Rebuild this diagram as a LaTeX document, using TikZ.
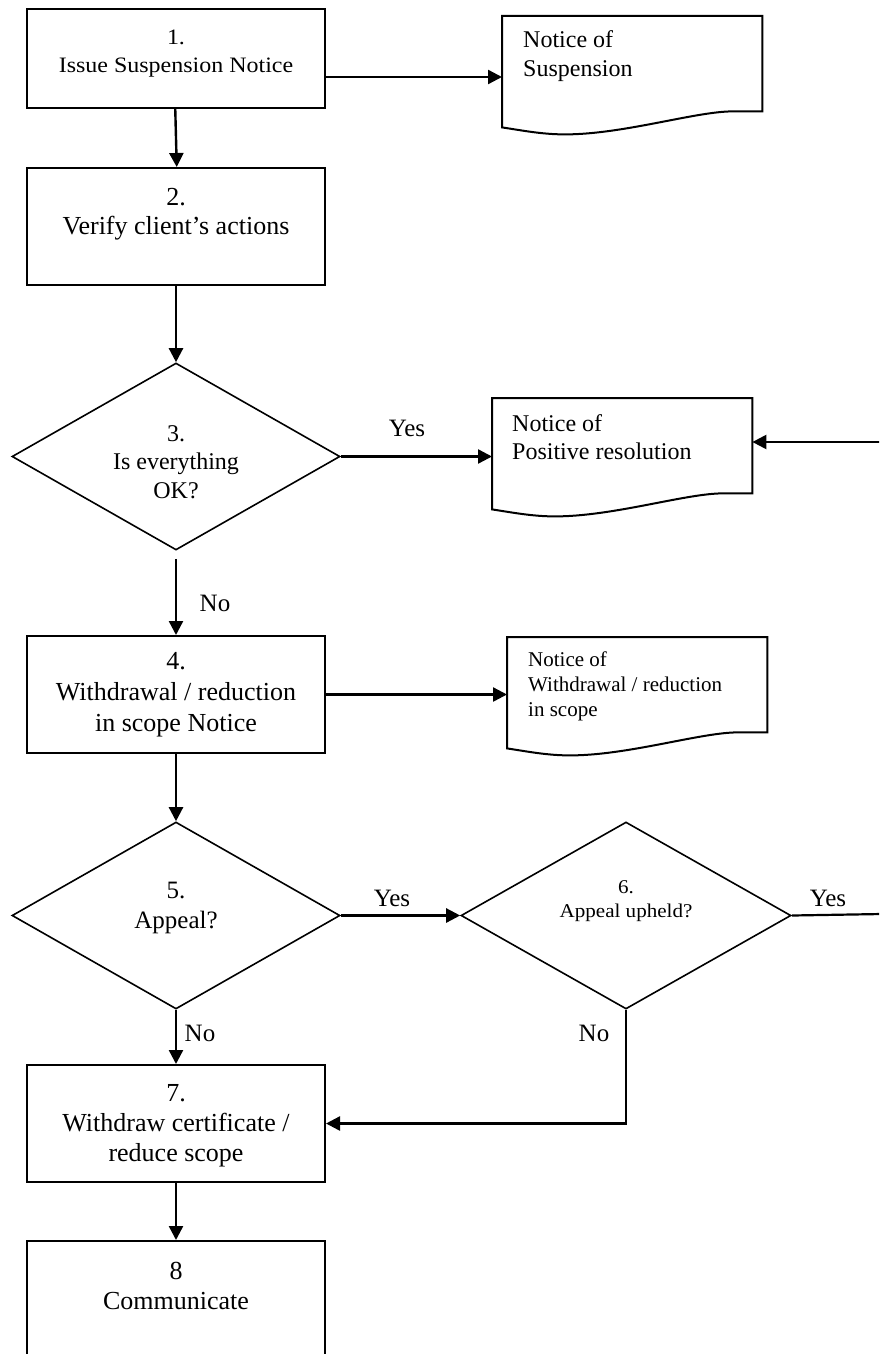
\documentclass[tikz,border=0pt]{standalone}
\usepackage{fontspec}
\setmainfont{Liberation Serif}
\usetikzlibrary{arrows.meta,shapes.geometric,calc}
\newcommand\myfs[2]{\fontsize{#1}{#2}\selectfont}
\newcommand\mydoc[1]{%
  \draw[docline] (#1.north west) -- (#1.north east) -- (#1.south east)
    -- ([shift={(-32,0)}]#1.south east)
    .. controls ([shift={(-70,1)}]#1.south east) and ([shift={(120,23)}]#1.south west) .. ([shift={(63,23)}]#1.south west)
    .. controls ([shift={(40,23)}]#1.south west) and ([shift={(20,19)}]#1.south west) .. ([shift={(0,16)}]#1.south west)
    -- cycle;}
\begin{document}
\begin{tikzpicture}[x=1pt,y=-1pt,
  box/.style={draw,line width=2pt,rectangle,minimum width=298pt,inner sep=0pt},
  dia/.style={draw,line width=1.6pt,diamond,inner sep=0pt,minimum height=187pt},
  docframe/.style={rectangle,draw=none,minimum width=260pt,minimum height=95pt,inner sep=0pt,anchor=north west},
  docline/.style={line width=2pt},
  arr/.style={line width=2.4pt,-{Triangle[length=14pt,width=14pt]}},
  plain/.style={line width=2.2pt},
  txt/.style={align=center,inner sep=0pt},
  ltxt/.style={align=left,inner sep=0pt,anchor=west},
  lbl/.style={inner sep=0pt,font=\myfs{25}{30}}]
\useasboundingbox (0,0) rectangle (879,1354);
\clip (0,0) rectangle (879,1354);

% shapes
\node[box,minimum height=99pt] (b1) at (176,58.5) {};
\node[box,minimum height=117pt] (b2) at (176,226.5) {};
\node[dia,minimum width=328pt] (d3) at (176,456.5) {};
\node[docframe] (n1) at (502,16) {};
\node[docframe] (n2) at (492,398) {};
\node[docframe] (n3) at (507,637) {};
\node[box,minimum height=117pt] (b4) at (176,694.5) {};
\node[dia,minimum width=328pt] (d5) at (176,915.5) {};
\node[dia,minimum width=330pt] (d6) at (626,915.5) {};
\node[box,minimum height=117pt] (b7) at (176,1123.5) {};
\node[box,minimum height=130pt] (b8) at (176,1306) {};
\mydoc{n1}
\mydoc{n2}
\mydoc{n3}

% texts
\node[txt,font=\myfs{22}{28}] (t1) at (176,54) {\scalebox{1.09}[1]{1.}\\\scalebox{1.09}[1]{Issue Suspension Notice}};
\node[txt,font=\myfs{26}{29}] (t2) at (176,214) {2.\\Verify client’s actions};
\node[txt,font=\myfs{24}{28.5}] (t3) at (176,462) {3.\\Is everything\\OK?};
\node[ltxt,font=\myfs{24}{29}] (tn1) at (523,56) {Notice of\\Suspension};
\node[ltxt,font=\myfs{24}{27.5}] (tn2) at (512,437) {Notice of\\Positive resolution};
\node[ltxt,font=\myfs{21}{25}] (tn3) at (528,686) {Notice of\\Withdrawal / reduction\\in scope};
\node[txt,font=\myfs{26}{31}] (t4) at (176,695) {4.\\Withdrawal / reduction\\in scope Notice};
\node[txt,font=\myfs{25}{30}] (t5) at (176,908) {5.\\Appeal?};
\node[txt,font=\myfs{19.5}{24}] (t6) at (626,901) {\scalebox{1.08}[1]{6.}\\\scalebox{1.08}[1]{Appeal upheld?}};
\node[txt,font=\myfs{26}{30}] (t7) at (176,1126) {7.\\Withdraw certificate /\\reduce scope};
\node[txt,font=\myfs{26}{30}] (t8) at (176,1286) {8\\Communicate};

% connectors
\draw[arr] ([xshift=-0.75pt]b1.south) -- ([xshift=0.75pt]b2.north);
\draw[arr] (b1.east |- 0,77) -- (n1.west |- 0,77);
\draw[arr] (b2.south) -- (d3.north);
\draw[arr] (d3.east) -- (d3.east -| n2.west);
\node[lbl] (y1) at (407,428) {Yes};
\coordinate (rin) at (882,442);
\draw[arr] (rin) -- (rin -| n2.east);
\draw[arr] ([shift={(0,8)}]d3.south) -- (b4.north);
\node[lbl] (no1) at (215,603) {No};
\draw[arr] (b4.east) -- (b4.east -| n3.west);
\draw[arr] (b4.south) -- (d5.north);
\draw[arr] (d5.east) -- (d6.west);
\node[lbl] (y2) at (392,898) {Yes};
\coordinate (rout) at (882,914);
\draw[plain] (d6.east) -- (rout);
\node[lbl] (y3) at (828,898) {Yes};
\draw[arr] (d5.south) -- (b7.north);
\node[lbl] (no2) at (200,1033) {No};
\draw[arr] (d6.south) |- (b7.east);
\node[lbl] (no3) at (594,1033) {No};
\draw[arr] (b7.south) -- (b8.north);
\end{tikzpicture}
\end{document}
